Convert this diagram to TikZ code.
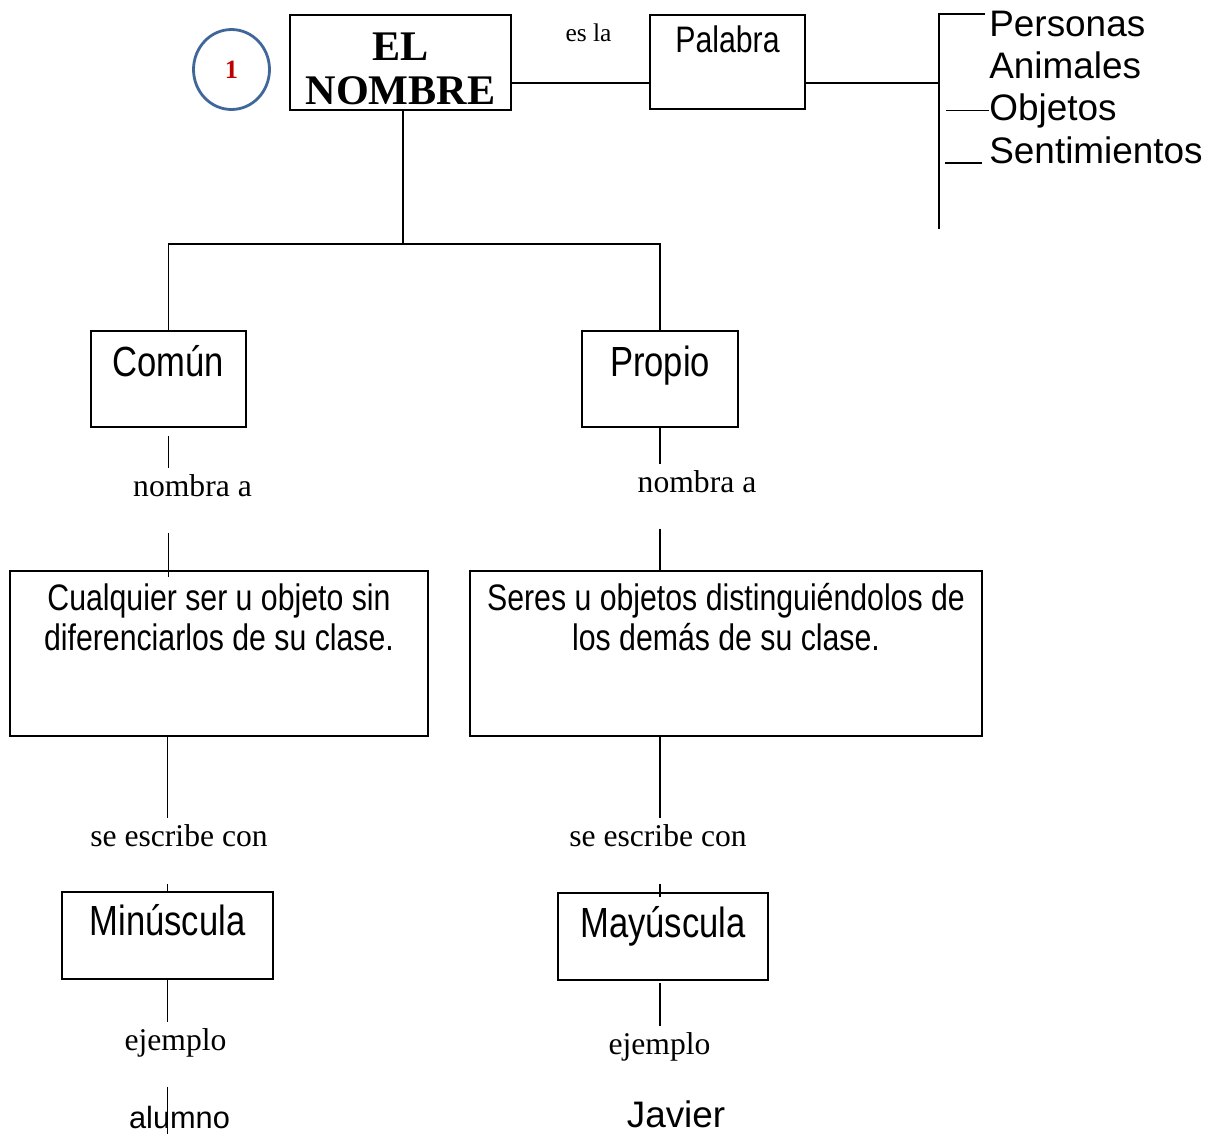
\documentclass[tikz,border=0pt]{standalone}
\usepackage{fontspec}
\setmainfont{Liberation Serif}
\newfontfamily\narrowsans[FakeStretch=0.82]{Liberation Sans}
\newfontfamily\plainsans{Liberation Sans}
\usetikzlibrary{shapes.geometric}
\definecolor{circblue}{HTML}{41679A}
\definecolor{numred}{HTML}{C00000}

\begin{document}
\begin{tikzpicture}[x=0.02cm, y=-0.02cm,
		box/.style={draw, line width=0.8pt, inner sep=0pt, font=\narrowsans\fontsize{24}{26}\selectfont},
		lbl/.style={anchor=base, font=\fontsize{18}{20}\selectfont},
		item/.style={anchor=base west, inner sep=0pt, font=\plainsans\fontsize{21}{24}\selectfont},
		link/.style={line width=0.8pt}]
		\useasboundingbox (0,0) rectangle (1219,1137);

		% top row
		\node [ellipse, draw=circblue, line width=1.6pt, minimum width=1.52cm, minimum height=1.6cm, inner sep=0pt, text=numred, font=\bfseries\fontsize{15}{18}\selectfont] (num) at (231.5,69.5) {1};
		\node [box, minimum width=4.42cm, text height=0.9cm, text depth=1.0cm, font=\bfseries\fontsize{24}{25.5}\selectfont] (nombre) at (400.5,62.5) {\begin{tabular}[t]{@{}c@{}}EL\\NOMBRE\end{tabular}};
		\node [lbl, font=\fontsize{14.5}{16}\selectfont] (esla) at (588.5,41) {es la};
		\node [box, minimum width=3.1cm, text height=0.74cm, text depth=1.14cm, font=\narrowsans\fontsize{21}{24}\selectfont] (palabra) at (727.5,62) {Palabra};
		\node [item] (personas) at (989,36) {Personas};
		\node [item] (animales) at (989,78) {Animales};
		\node [item] (objetos) at (989,120) {Objetos};
		\node [item] (sentim) at (989,163) {Sentimientos};

		% second row
		\node [box, minimum width=3.1cm, text height=0.9cm, text depth=1.02cm] (comun) at (168.5,379) {Común};
		\node [box, minimum width=3.12cm, text height=0.9cm, text depth=1.02cm] (propio) at (660,379) {Propio};
		\node [lbl] (nomb1) at (192.5,496) {nombra a};
		\node [lbl] (nomb2) at (697,492) {nombra a};

		% descriptions
		\node [box, minimum width=8.36cm, text height=0.78cm, text depth=2.52cm, font=\narrowsans\fontsize{21}{23.2}\selectfont] (cualq) at (219,653.5) {\begin{tabular}[t]{@{}c@{}}Cualquier ser u objeto sin\\diferenciarlos de su clase.\end{tabular}};
		\node [box, minimum width=10.24cm, text height=0.78cm, text depth=2.52cm, font=\narrowsans\fontsize{21}{23.2}\selectfont] (seres) at (726,653.5) {\begin{tabular}[t]{@{}c@{}}Seres u objetos distinguiéndolos de\\los demás de su clase.\end{tabular}};
		\node [lbl] (escr1) at (179,846) {se escribe con};
		\node [lbl] (escr2) at (658,846) {se escribe con};

		% letters and examples
		\node [box, minimum width=4.22cm, text height=0.86cm, text depth=0.88cm] (minus) at (167.5,935.5) {Minúscula};
		\node [box, minimum width=4.2cm, text height=0.88cm, text depth=0.86cm] (mayus) at (663,936.5) {Mayúscula};
		\node [lbl] (ejem1) at (175.5,1050) {ejemplo};
		\node [lbl] (ejem2) at (659.5,1054) {ejemplo};
		\node [lbl, font=\plainsans\fontsize{17.5}{20}\selectfont] (alumno) at (179.5,1128) {alumno};
		\node [lbl, font=\plainsans\fontsize{21}{24}\selectfont] (javier) at (676,1127) {Javier};

		% connectors
		\coordinate (bar) at (939,83);
		\coordinate (bartop) at (939,14);
		\coordinate (barbot) at (939,229);
		\coordinate (split) at (403,244);
		\draw [link] (nombre.east |- bar) -- (palabra.west |- bar);
		\draw [link] (palabra.east |- bar) -- (bar);
		\draw [link, shorten <=0.08cm] (personas.west |- bartop) -- (bartop) -- (barbot);
		\draw [link, shorten <=0.14cm] (bar |- objetos.west) -- (objetos.west);
		\draw [link, shorten <=0.12cm, shorten >=0.14cm] (bar |- sentim.base west) -- (sentim.base west);
		\draw [link] (split |- nombre.south) -- (split);
		\draw [link] (split) -| (comun.north);
		\draw [link] (split) -| (propio.north);

		\draw [link, shorten <=0.16cm] (comun.south) -- (comun.south |- nomb1.north);
		\draw [link, shorten <=0.6cm, shorten >=-0.14cm] (comun.south |- nomb1.south) -- (comun.south |- cualq.north);
		\draw [link] (minus.north |- cualq.south) -- (minus.north |- escr1.north);
		\draw [link, shorten <=0.62cm] (minus.north |- escr1.south) -- (minus.north);
		\draw [link] (minus.south) -- (minus.south |- ejem1.north);
		\draw [link, shorten <=0.48cm, shorten >=0.02cm] (minus.south |- ejem1.south) -- (minus.south |- alumno.south);

		\draw [link] (propio.south) -- (propio.south |- nomb2.north);
		\draw [link, shorten <=0.6cm] (propio.south |- nomb2.south) -- (propio.south |- seres.north);
		\draw [link] (propio.south |- seres.south) -- (propio.south |- escr2.north);
		\draw [link, shorten <=0.62cm, shorten >=-0.1cm] (propio.south |- escr2.south) -- (propio.south |- mayus.north);
		\draw [link, shorten <=0.04cm] (propio.south |- mayus.south) -- (propio.south |- ejem2.north);
	\end{tikzpicture}
\end{document}
